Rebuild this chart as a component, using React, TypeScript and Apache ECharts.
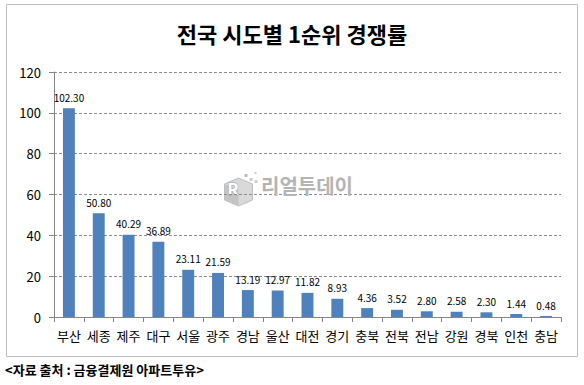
import React, { useEffect, useRef } from "react";
import * as echarts from "echarts";

const categories = ["부산", "세종", "제주", "대구", "서울", "광주", "경남", "울산", "대전", "경기", "충북", "전북", "전남", "강원", "경북", "인천", "충남"];
const values = [102.3, 50.8, 40.29, 36.89, 23.11, 21.59, 13.19, 12.97, 11.82, 8.93, 4.36, 3.52, 2.8, 2.58, 2.3, 1.44, 0.48];
const yTicks = [0, 20, 40, 60, 80, 100, 120];

const FONT = "'Noto Sans CJK KR', 'Noto Sans', sans-serif";

export default function App() {
  const ref = useRef<HTMLDivElement>(null);
  useEffect(() => {
    if (!ref.current) return;
    const chart = echarts.init(ref.current, undefined, { renderer: "svg" });
    chart.setOption({
      animation: false,
      backgroundColor: "#ffffff",
      title: {
        text: "전국 시도별 1순위 경쟁률",
        left: "center",
        top: 17,
        textStyle: { fontFamily: FONT, fontSize: 22, fontWeight: "bold", color: "#000" },
      },
      grid: { left: 54, right: 23, top: 72, bottom: 68 },
      xAxis: {
        type: "category",
        data: categories,
        axisLine: { lineStyle: { color: "#868686" } },
        axisTick: { show: true, length: 5, lineStyle: { color: "#868686" }, alignWithLabel: false },
        axisLabel: { fontFamily: FONT, fontSize: 13, color: "#000", margin: 12, interval: 0 },
      },
      yAxis: {
        type: "value",
        min: yTicks[0],
        max: yTicks[yTicks.length - 1],
        interval: 20,
        axisLine: { show: true, lineStyle: { color: "#868686" } },
        axisTick: { show: true, length: 5, lineStyle: { color: "#868686" } },
        axisLabel: { fontFamily: FONT, fontSize: 13, color: "#000", margin: 13 },
        splitLine: { lineStyle: { color: "#8c8c8c", type: [3, 2], width: 1 } },
      },
      series: [
        {
          type: "bar",
          data: values,
          barWidth: "40%",
          itemStyle: { color: "#4F81BD" },
          label: {
            show: true,
            position: "top",
            distance: 6,
            formatter: (p: any) => p.value.toFixed(2),
            fontFamily: FONT,
            fontSize: 10,
            color: "#000",
          },
        },
      ],
      graphic: [
        {
          type: "rect",
          shape: { x: 6.5, y: 4.5, width: 571, height: 352 },
          style: { fill: "none", stroke: "#bfbfbf", lineWidth: 1 },
          z: 0,
          silent: true,
        },
        {
          type: "group",
          left: 224,
          top: 172,
          silent: true,
          z: 1,
          children: [
            { type: "polygon", shape: { points: [[0, 8], [14, 2], [28, 8], [28, 24], [14, 30], [0, 24]] }, style: { fill: "#d9d9d9", stroke: "#bdbdbd", lineWidth: 1 } },
            { type: "polygon", shape: { points: [[0, 8], [14, 14], [14, 30], [0, 24]] }, style: { fill: "#c4c4c4" } },
            { type: "text", style: { text: "R", x: 3, y: 4, fontFamily: FONT, fontSize: 16, fontWeight: "bold", fill: "#ffffff", stroke: "#a8a8a8", lineWidth: 1 } },
            { type: "rect", shape: { x: 20, y: -2, width: 3, height: 3 }, style: { fill: "#bdbdbd" } },
            { type: "rect", shape: { x: 25, y: 2, width: 3, height: 3 }, style: { fill: "#c8c8c8" } },
            { type: "rect", shape: { x: 30, y: -4, width: 2, height: 2 }, style: { fill: "#cfcfcf" } },
            { type: "rect", shape: { x: 30, y: 4, width: 3, height: 3 }, style: { fill: "#cfcfcf" } },
          ],
        },
        {
          type: "text",
          left: 261,
          top: 175,
          silent: true,
          z: 1,
          style: { text: "리얼투데이", fontFamily: FONT, fontSize: 20, fontWeight: "bold", fill: "#b4b4b4" },
        },
        {
          type: "text",
          left: 5,
          top: 363,
          style: { text: "<자료 출처 : 금융결제원 아파트투유>", fontFamily: FONT, fontSize: 13, fontWeight: "bold", fill: "#000" },
        },
      ],
    });
    return () => chart.dispose();
  }, []);
  return <div ref={ref} style={{ position: "fixed", left: 0, top: 0, width: 584, height: 385 }} />;
}
